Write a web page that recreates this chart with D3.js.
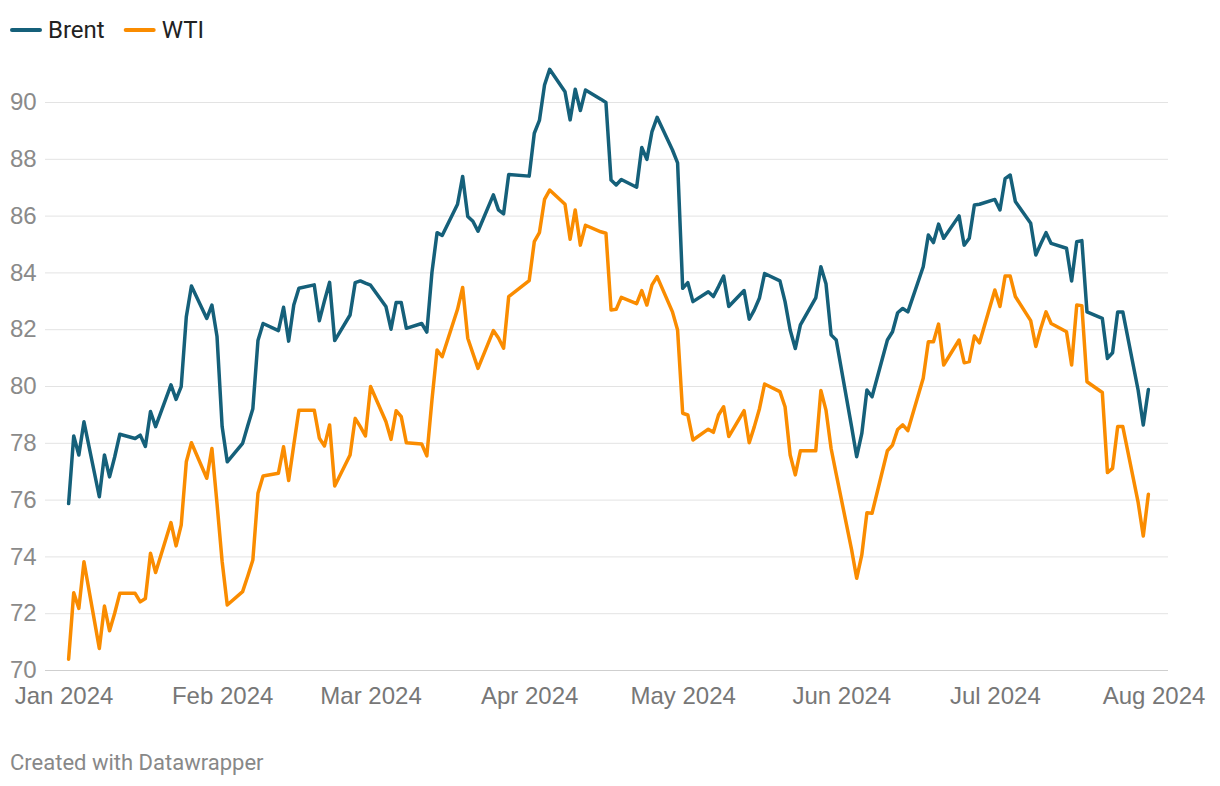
<!DOCTYPE html>
<html>
<head>
<meta charset="utf-8">
<script src="https://cdn.jsdelivr.net/npm/d3@7"></script>
<style>
  body { margin: 0; background: #fff; }
  svg { font-family: Roboto, "Noto Sans", sans-serif; }
</style>
</head>
<body>
<div id="chart"></div>
<script>
const dates = [
  '2024-01-02','2024-01-03','2024-01-04','2024-01-05','2024-01-08','2024-01-09','2024-01-10','2024-01-11','2024-01-12',
  '2024-01-15','2024-01-16','2024-01-17','2024-01-18','2024-01-19','2024-01-22','2024-01-23','2024-01-24','2024-01-25',
  '2024-01-26','2024-01-29','2024-01-30','2024-01-31','2024-02-01','2024-02-02','2024-02-05','2024-02-06','2024-02-07',
  '2024-02-08','2024-02-09','2024-02-12','2024-02-13','2024-02-14','2024-02-15','2024-02-16','2024-02-19','2024-02-20',
  '2024-02-21','2024-02-22','2024-02-23','2024-02-26','2024-02-27','2024-02-28','2024-02-29','2024-03-01','2024-03-04',
  '2024-03-05','2024-03-06','2024-03-07','2024-03-08','2024-03-11','2024-03-12','2024-03-13','2024-03-14','2024-03-15',
  '2024-03-18','2024-03-19','2024-03-20','2024-03-21','2024-03-22','2024-03-25','2024-03-26','2024-03-27','2024-03-28',
  '2024-04-01','2024-04-02','2024-04-03','2024-04-04','2024-04-05','2024-04-08','2024-04-09','2024-04-10','2024-04-11',
  '2024-04-12','2024-04-15','2024-04-16','2024-04-17','2024-04-18','2024-04-19','2024-04-22','2024-04-23','2024-04-24',
  '2024-04-25','2024-04-26','2024-04-29','2024-04-30','2024-05-01','2024-05-02','2024-05-03','2024-05-06','2024-05-07',
  '2024-05-08','2024-05-09','2024-05-10','2024-05-13','2024-05-14','2024-05-15','2024-05-16','2024-05-17','2024-05-20',
  '2024-05-21','2024-05-22','2024-05-23','2024-05-24','2024-05-27','2024-05-28','2024-05-29','2024-05-30','2024-05-31',
  '2024-06-03','2024-06-04','2024-06-05','2024-06-06','2024-06-07','2024-06-10','2024-06-11','2024-06-12','2024-06-13',
  '2024-06-14','2024-06-17','2024-06-18','2024-06-19','2024-06-20','2024-06-21','2024-06-24','2024-06-25','2024-06-26',
  '2024-06-27','2024-06-28','2024-07-01','2024-07-02','2024-07-03','2024-07-04','2024-07-05','2024-07-08','2024-07-09',
  '2024-07-10','2024-07-11','2024-07-12','2024-07-15','2024-07-16','2024-07-17','2024-07-18','2024-07-19','2024-07-22',
  '2024-07-23','2024-07-24','2024-07-25','2024-07-26','2024-07-29','2024-07-30','2024-07-31'
];

const brent = [
  75.86, 78.24, 77.57, 78.74, 76.10, 77.57, 76.80, 77.50, 78.30,
  78.15, 78.27, 77.87, 79.10, 78.57, 80.04, 79.53, 79.98, 82.44,
  83.52, 82.38, 82.85, 81.74, 78.57, 77.33, 77.98, 78.60, 79.20,
  81.60, 82.20, 81.95, 82.77, 81.58, 82.85, 83.44, 83.56, 82.30,
  83.00, 83.65, 81.60, 82.50, 83.64, 83.70, 83.62, 83.55, 82.80,
  82.00, 82.94, 82.94, 82.03, 82.20, 81.90, 84.00, 85.40, 85.30,
  86.40, 87.38, 85.97, 85.80, 85.45, 86.73, 86.20, 86.06, 87.45,
  87.39, 88.90, 89.35, 90.60, 91.15, 90.36, 89.37, 90.45, 89.70,
  90.42, 90.10, 89.98, 87.25, 87.08, 87.27, 87.00, 88.40, 87.98,
  88.96, 89.46, 88.31, 87.86, 83.44, 83.64, 82.97, 83.32, 83.15,
  83.50, 83.87, 82.80, 83.36, 82.35, 82.68, 83.10, 83.96, 83.70,
  82.97, 81.97, 81.32, 82.15, 83.10, 84.20, 83.60, 81.80, 81.62,
  78.57, 77.51, 78.33, 79.86, 79.62, 81.62, 81.91, 82.58, 82.73,
  82.61, 84.20, 85.32, 85.05, 85.70, 85.20, 85.99, 84.96, 85.20,
  86.37, 86.40, 86.57, 86.20, 87.30, 87.43, 86.50, 85.73, 84.61,
  85.02, 85.40, 85.02, 84.85, 83.70, 85.08, 85.12, 82.61, 82.38,
  80.97, 81.17, 82.61, 82.61, 79.85, 78.63, 79.88
];

const wti = [
  70.38, 72.72, 72.17, 73.81, 70.76, 72.25, 71.38, 72.00, 72.70,
  72.70, 72.40, 72.52, 74.11, 73.43, 75.19, 74.37, 75.10, 77.33,
  78.00, 76.75, 77.80, 75.86, 73.82, 72.29, 72.76, 73.30, 73.87,
  76.22, 76.83, 76.93, 77.86, 76.67, 77.92, 79.15, 79.15, 78.16,
  77.89, 78.63, 76.48, 77.57, 78.86, 78.57, 78.24, 79.98, 78.75,
  78.12, 79.13, 78.92, 78.00, 77.96, 77.54, 79.50, 81.27, 81.03,
  82.70, 83.47, 81.68, 81.15, 80.62, 81.95, 81.69, 81.33, 83.15,
  83.71, 85.08, 85.40, 86.57, 86.90, 86.40, 85.17, 86.20, 84.96,
  85.66, 85.43, 85.38, 82.68, 82.70, 83.12, 82.90, 83.36, 82.85,
  83.56, 83.85, 82.61, 81.97, 79.04, 78.98, 78.10, 78.48, 78.37,
  78.98, 79.27, 78.22, 79.13, 78.00, 78.57, 79.20, 80.07, 79.80,
  79.27, 77.57, 76.87, 77.72, 77.72, 79.84, 79.15, 77.80, 76.90,
  74.24, 73.23, 74.05, 75.54, 75.52, 77.72, 77.92, 78.47, 78.63,
  78.43, 80.27, 81.56, 81.56, 82.18, 80.74, 81.62, 80.82, 80.86,
  81.76, 81.52, 83.38, 82.80, 83.87, 83.87, 83.15, 82.30, 81.39,
  82.04, 82.61, 82.20, 81.91, 80.74, 82.85, 82.83, 80.15, 79.77,
  76.95, 77.10, 78.57, 78.57, 75.90, 74.72, 76.19
];

const seriesNames = ['Brent', 'WTI'];
const seriesColors = ['#15607a', '#fa8c00'];
const yTicks = [70, 72, 74, 76, 78, 80, 82, 84, 86, 88, 90];

const width = 1220;
const height = 786;
const gridLeft = 45;
const gridRight = 1168;

const parse = d3.utcParse('%Y-%m-%d');
const days = dates.map(parse);

const x = d3.scaleUtc()
  .domain([parse('2024-01-01'), parse('2024-08-01')])
  .range([63.5, 1153.5]);

const y = d3.scaleLinear()
  .domain([70, 90])
  .range([670, 102]);

const svg = d3.select('#chart')
  .append('svg')
  .attr('width', width)
  .attr('height', height);

svg.append('rect').attr('width', width).attr('height', height).attr('fill', '#fff');

// gridlines + y labels
const yAxis = svg.append('g')
  .attr('transform', `translate(${gridLeft}, 0)`)
  .call(d3.axisLeft(y).tickValues(yTicks).tickSize(-(gridRight - gridLeft)).tickPadding(0));
yAxis.select('.domain').remove();
yAxis.selectAll('.tick line')
  .attr('stroke', d => d === 70 ? '#cfcfcf' : '#e3e3e3')
  .attr('stroke-width', 1);
yAxis.selectAll('.tick text')
  .attr('x', 10 - gridLeft)
  .attr('text-anchor', 'start')
  .attr('fill', '#8a8a8a')
  .style('font-size', '24px');

// x labels
const xAxis = svg.append('g')
  .attr('transform', 'translate(0, 670)')
  .call(d3.axisBottom(x).ticks(d3.utcMonth.every(1)).tickFormat(d3.utcFormat('%b %Y')).tickSize(0).tickPadding(17));
xAxis.select('.domain').remove();
xAxis.selectAll('.tick text')
  .attr('fill', '#777')
  .style('font-size', '24px');

// lines
const line = d3.line()
  .x((d, i) => x(days[i]))
  .y(d => y(d));

const seriesData = [brent, wti];
seriesData.slice().reverse().forEach((vals, k) => {
  const idx = seriesData.length - 1 - k;
  svg.append('path')
    .datum(vals)
    .attr('fill', 'none')
    .attr('stroke', seriesColors[idx])
    .attr('stroke-width', 3.5)
    .attr('stroke-linejoin', 'round')
    .attr('stroke-linecap', 'round')
    .attr('d', line);
});

// legend
const legend = svg.append('g').attr('transform', 'translate(12, 30)');
let lx = 0;
seriesNames.forEach((name, i) => {
  const g = legend.append('g').attr('transform', `translate(${lx}, 0)`);
  g.append('line')
    .attr('x1', 0).attr('x2', 28)
    .attr('stroke', seriesColors[i])
    .attr('stroke-width', 4)
    .attr('stroke-linecap', 'round');
  const t = g.append('text')
    .attr('x', 36)
    .attr('dy', '0.35em')
    .attr('fill', '#222')
    .style('font-size', '24px')
    .text(name);
  lx += 36 + t.node().getComputedTextLength() + 21;
});

// footer
svg.append('text')
  .attr('x', 10)
  .attr('y', 770)
  .attr('fill', '#888')
  .style('font-size', '22px')
  .text('Created with Datawrapper');
</script>
</body>
</html>
